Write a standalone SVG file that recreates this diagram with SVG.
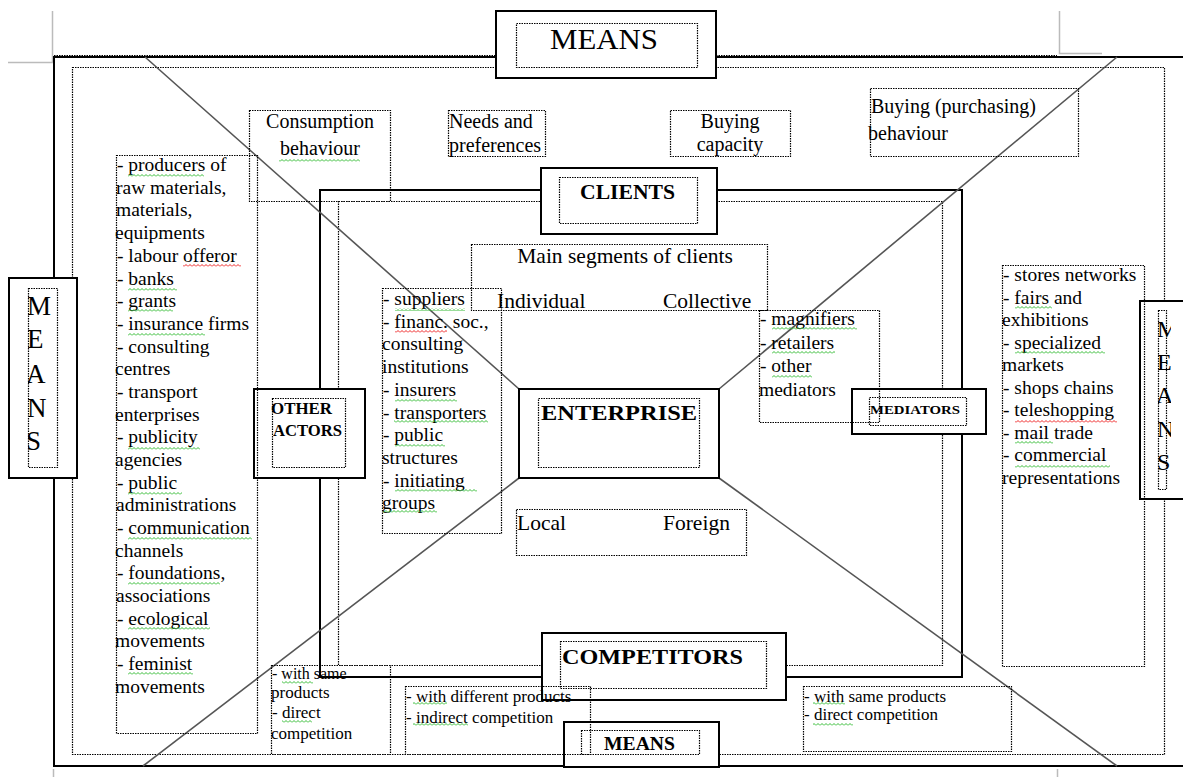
<svg xmlns="http://www.w3.org/2000/svg" width="1183" height="777" viewBox="0 0 1183 777">
<style>
.s{fill:none;stroke:#000;stroke-width:2}
.sw{fill:#fff;stroke:#000;stroke-width:2}
.d{fill:none;stroke:#000;stroke-width:1.2;stroke-dasharray:1.5 1}
.diag{fill:none;stroke:#555;stroke-width:1.6}
.cm{fill:none;stroke:#bbb;stroke-width:1.5}
text{font-family:"Liberation Serif","Times New Roman",serif;fill:#000}
.t{font-size:19.5px}
.l{font-size:20px}
.l2{font-size:21.5px}
.sm{font-size:17px}
.b{font-weight:bold}
.gq{fill:url(#sqg)}
.rq{fill:url(#sqr)}
</style>
<defs>
<pattern id="sqg" x="0" y="0" width="4" height="3" patternUnits="userSpaceOnUse"><path d="M0,2.5 L2,0.5 L4,2.5" fill="none" stroke="#3b3" stroke-width="1"/></pattern>
<pattern id="sqr" x="0" y="0" width="4" height="3" patternUnits="userSpaceOnUse"><path d="M0,2.5 L2,0.5 L4,2.5" fill="none" stroke="#e22" stroke-width="1"/></pattern>
<clipPath id="cL"><rect x="28" y="288" width="40" height="180"/></clipPath>
<clipPath id="cR"><rect x="1158" y="305" width="13" height="190"/></clipPath>
</defs>
<rect x="0" y="0" width="1183" height="777" fill="#fff"/>

<g id="corner-marks">
<path class="cm" d="M52.5,11 V62.5 H8"/>
<path class="cm" d="M1059.5,11 V53.5 H1102"/>
<path class="cm" d="M53.5,769 V777"/>
<path class="cm" d="M1057.5,769 V777"/>
</g>

<g id="frame">
<path class="s" d="M1183,57 H54 V766 H1183"/>
<path class="d" d="M54,55.5 H496 M716,55.5 H1057"/>
<rect class="d" x="72.5" y="67.5" width="1092" height="687"/>
<rect class="s" x="320" y="190" width="642" height="487"/>
<rect class="d" x="338.5" y="201.5" width="604" height="464"/>
</g>

<g id="connectors">
<path class="diag" d="M145,57 L519,389"/>
<path class="diag" d="M1117,57 L719,389"/>
<path class="diag" d="M519,478 L143,766"/>
<path class="diag" d="M719,478 L1117,766"/>
</g>

<g id="means-top">
<rect class="sw" x="496" y="11" width="220" height="67"/>
<rect class="d" x="516.5" y="23.5" width="181" height="44"/>
<text x="550" y="49" font-size="30" textLength="108" lengthAdjust="spacingAndGlyphs">MEANS</text>
</g>

<g id="means-left">
<rect class="sw" x="9" y="278" width="68" height="200"/>
<rect class="d" x="28.5" y="288.5" width="29" height="179"/>
<g clip-path="url(#cL)" font-size="27">
<text x="27" y="315">M</text>
<text x="27" y="348">E</text>
<text x="26" y="383">A</text>
<text x="27" y="417">N</text>
<text x="26" y="450">S</text>
</g>
</g>

<g id="means-right">
<rect class="sw" x="1140" y="301" width="50" height="198"/>
<rect class="d" x="1158.5" y="310.5" width="8" height="179"/>
<g clip-path="url(#cR)" font-size="24">
<text x="1157" y="337">M</text>
<text x="1157" y="370">E</text>
<text x="1156" y="403">A</text>
<text x="1157" y="437">N</text>
<text x="1157" y="470">S</text>
</g>
</g>

<g id="means-bottom">
<rect class="sw" x="564" y="722" width="155" height="45"/>
<rect class="d" x="581.5" y="730.5" width="118" height="24"/>
<text class="b" x="604" y="750" font-size="18" textLength="71" lengthAdjust="spacingAndGlyphs">MEANS</text>
</g>

<g id="clients">
<rect class="sw" x="541" y="168" width="176" height="66"/>
<rect class="d" x="559.5" y="177.5" width="138" height="46"/>
<text class="b" x="580" y="199" font-size="21" textLength="95" lengthAdjust="spacingAndGlyphs">CLIENTS</text>
</g>

<g id="competitors">
<rect class="sw" x="542" y="633" width="244" height="67"/>
<rect class="d" x="560.5" y="641.5" width="206" height="47"/>
<text class="b" x="562" y="664" font-size="22" textLength="181" lengthAdjust="spacingAndGlyphs">COMPETITORS</text>
</g>

<g id="enterprise">
<rect class="sw" x="519" y="389" width="200" height="89"/>
<rect class="d" x="538.5" y="398.5" width="161" height="69"/>
<text class="b" x="541" y="420" font-size="22" textLength="156" lengthAdjust="spacingAndGlyphs">ENTERPRISE</text>
</g>

<g id="other-actors">
<rect class="sw" x="254" y="389" width="111" height="89"/>
<rect class="d" x="272.5" y="398.5" width="73" height="69"/>
<text class="b" x="271" y="414" font-size="16" textLength="61" lengthAdjust="spacingAndGlyphs">OTHER</text>
<text class="b" x="273" y="436" font-size="16" textLength="69" lengthAdjust="spacingAndGlyphs">ACTORS</text>
</g>

<g id="mediators">
<rect class="sw" x="852" y="389" width="134" height="45"/>
<rect class="d" x="869.5" y="397.5" width="97" height="28"/>
<text class="b" x="870" y="414" font-size="13" textLength="90" lengthAdjust="spacingAndGlyphs">MEDIATORS</text>
</g>

<g id="consumption-behaviour">
<rect class="d" x="249.5" y="110.5" width="141" height="91"/>
<text class="l" x="320" y="128" text-anchor="middle">Consumption</text>
<text class="l" x="320" y="155" text-anchor="middle">behaviour</text>
<rect class="gq" x="279" y="159" width="81" height="3"/>
</g>

<g id="needs-preferences">
<rect class="d" x="448.5" y="110.5" width="97" height="46"/>
<text class="l" x="449" y="128">Needs and</text>
<text class="l" x="449" y="152">preferences</text>
</g>

<g id="buying-capacity">
<rect class="d" x="670.5" y="110.5" width="120" height="46"/>
<text class="l" x="730" y="128" text-anchor="middle">Buying</text>
<text class="l" x="730" y="151" text-anchor="middle">capacity</text>
</g>

<g id="buying-behaviour">
<rect class="d" x="870.5" y="88.5" width="208" height="68"/>
<text class="l" x="871" y="113">Buying (purchasing)</text>
<text class="l" x="868" y="140">behaviour</text>
</g>

<g id="main-segments">
<rect class="d" x="471.5" y="244.5" width="296" height="66"/>
<text class="l2" x="625" y="263" text-anchor="middle">Main segments of clients</text>
<text class="l2" x="497" y="308">Individual</text>
<text class="l2" x="663" y="308">Collective</text>
</g>

<g id="local-foreign">
<rect class="d" x="516.5" y="509.5" width="230" height="46"/>
<text class="l2" x="517" y="530">Local</text>
<text class="l2" x="663" y="530">Foreign</text>
</g>

<g id="means-list-left">
<rect class="d" x="116.5" y="155.5" width="141" height="578"/>
<g class="t">
<text x="117" y="171">- producers of</text>
<text x="116" y="193.5">raw materials,</text>
<text x="116" y="216">materials,</text>
<text x="115" y="239">equipments</text>
<text x="117" y="262">- labour offeror</text>
<text x="117" y="284.5">- banks</text>
<text x="117" y="307">- grants</text>
<text x="117" y="330">- insurance firms</text>
<text x="117" y="352.5">- consulting</text>
<text x="115" y="375">centres</text>
<text x="117" y="398">- transport</text>
<text x="115" y="420.5">enterprises</text>
<text x="117" y="443">- publicity</text>
<text x="115" y="466">agencies</text>
<text x="117" y="488.5">- public</text>
<text x="116" y="511">administrations</text>
<text x="117" y="534">- communication</text>
<text x="115" y="556.5">channels</text>
<text x="117" y="579">- foundations,</text>
<text x="116" y="602">associations</text>
<text x="117" y="624.5">- ecological</text>
<text x="115" y="647">movements</text>
<text x="117" y="670">- feminist</text>
<text x="115" y="692.5">movements</text>
</g>
<rect class="gq" x="128" y="174" width="76" height="3"/>
<rect class="rq" x="183" y="264" width="58" height="3"/>
<rect class="gq" x="128" y="288" width="49" height="3"/>
<rect class="gq" x="128" y="309" width="45" height="3"/>
<rect class="gq" x="128" y="333" width="77" height="3"/>
<rect class="gq" x="128" y="447" width="72" height="3"/>
<rect class="gq" x="128" y="492" width="54" height="3"/>
<rect class="gq" x="128" y="537" width="124" height="3"/>
<rect class="gq" x="128" y="582" width="92" height="3"/>
<rect class="gq" x="128" y="627" width="82" height="3"/>
<rect class="gq" x="128" y="672" width="65" height="3"/>
</g>

<g id="other-actors-list">
<rect class="d" x="382.5" y="288.5" width="119" height="245"/>
<g class="t">
<text x="383" y="305">- suppliers</text>
<text x="383" y="327.5">- financ. soc.,</text>
<text x="382" y="350">consulting</text>
<text x="382" y="373">institutions</text>
<text x="383" y="396">- insurers</text>
<text x="383" y="418.5">- transporters</text>
<text x="383" y="441">- public</text>
<text x="382" y="464">structures</text>
<text x="383" y="486.5">- initiating</text>
<text x="382" y="509">groups</text>
</g>
<rect class="gq" x="395" y="308" width="70" height="3"/>
<rect class="rq" x="395" y="330" width="52" height="3"/>
<rect class="gq" x="395" y="399" width="62" height="3"/>
<rect class="gq" x="394" y="420" width="94" height="3"/>
<rect class="gq" x="395" y="444" width="50" height="3"/>
<rect class="gq" x="395" y="489" width="82" height="3"/>
<rect class="gq" x="383" y="510" width="54" height="3"/>
</g>

<g id="mediators-list">
<rect class="d" x="759.5" y="310.5" width="120" height="112"/>
<g class="t">
<text x="760" y="325">- magnifiers</text>
<text x="760" y="348.5">- retailers</text>
<text x="760" y="372">- other</text>
<text x="759" y="395.5">mediators</text>
</g>
<rect class="gq" x="772" y="327" width="85" height="3"/>
<rect class="gq" x="772" y="351" width="63" height="3"/>
<rect class="gq" x="772" y="375" width="40" height="3"/>
</g>

<g id="means-list-right">
<rect class="d" x="1002.5" y="265.5" width="142" height="401"/>
<g class="t">
<text x="1003" y="281">- stores networks</text>
<text x="1003" y="303.5">- fairs and</text>
<text x="1002" y="326">exhibitions</text>
<text x="1003" y="348.5">- specialized</text>
<text x="1002" y="371">markets</text>
<text x="1003" y="393.5">- shops chains</text>
<text x="1003" y="416">- teleshopping</text>
<text x="1003" y="438.5">- mail trade</text>
<text x="1003" y="461">- commercial</text>
<text x="1002" y="483.5">representations</text>
</g>
<rect class="gq" x="1015" y="306" width="37" height="3"/>
<rect class="gq" x="1015" y="351" width="90" height="3"/>
<rect class="rq" x="1015" y="420" width="102" height="3"/>
<rect class="gq" x="1015" y="441" width="38" height="3"/>
<rect class="gq" x="1015" y="465" width="95" height="3"/>
</g>

<g id="competitors-same-left">
<rect class="d" x="271.5" y="665.5" width="119" height="89"/>
<text x="272" y="679" font-size="16">- with same</text>
<text class="sm" x="271" y="698">products</text>
<text class="sm" x="272" y="718">- direct</text>
<text class="sm" x="271" y="739">competition</text>
<rect class="gq" x="282" y="681" width="31" height="3"/>
<rect class="gq" x="282" y="720" width="30" height="3"/>
</g>

<g id="competitors-different">
<rect class="d" x="405.5" y="686.5" width="185" height="68"/>
<text class="sm" x="406" y="702">- with different products</text>
<text class="sm" x="406" y="723">- indirect competition</text>
<rect class="gq" x="413" y="702" width="34" height="3"/>
<rect class="gq" x="413" y="723" width="55" height="3"/>
</g>

<g id="competitors-same-right">
<rect class="d" x="803.5" y="686.5" width="208" height="65"/>
<text class="sm" x="804" y="702">- with same products</text>
<text class="sm" x="804" y="720">- direct competition</text>
<rect class="gq" x="813" y="702" width="32" height="3"/>
<rect class="gq" x="813" y="723" width="40" height="3"/>
</g>
</svg>
